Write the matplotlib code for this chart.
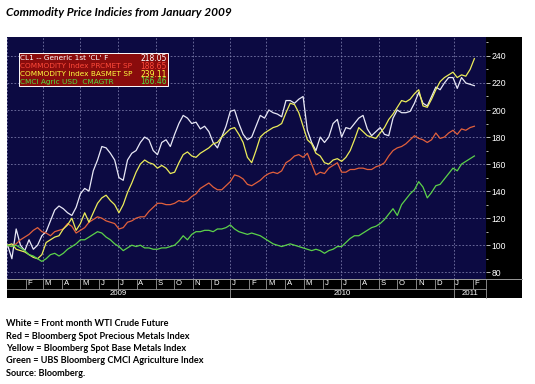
import numpy as np
import pandas as pd
import matplotlib
matplotlib.use("Agg")
import matplotlib.pyplot as plt
import matplotlib.dates as mdates
from matplotlib.patches import Rectangle
from matplotlib.lines import Line2D
from matplotlib.ticker import MultipleLocator, NullFormatter

# weekly closes, indexed to 100 at start of 2009
dates = pd.date_range("2009-01-02", "2011-02-04", freq="W-FRI")

crude = [100, 90, 112, 100, 96, 104, 97, 100, 107, 110,
         118, 126, 129, 127, 124, 122, 128, 138, 142, 140,
         155, 163, 173, 172, 168, 163, 150, 148, 163, 168,
         170, 176, 180, 178, 170, 167, 176, 178, 173, 182,
         190, 196, 194, 190, 191, 186, 188, 184, 176, 172,
         180, 188, 199, 200, 190, 182, 178, 180, 188, 196,
         194, 200, 198, 197, 195, 207, 207, 205, 208, 210,
         185, 176, 170, 180, 176, 180, 190, 193, 180, 187,
         186, 190, 194, 196, 186, 181, 184, 187, 182, 181,
         194, 200, 198, 198, 199, 205, 213, 205, 203, 210,
         217, 215, 220, 224, 224, 216, 224, 220, 219, 218]

precious = [100, 99, 101, 104, 106, 108, 111, 113, 110, 109,
            107, 110, 111, 112, 116, 114, 109, 111, 113, 117,
            119, 121, 120, 118, 117, 116, 112, 113, 117, 118,
            120, 121, 121, 125, 128, 131, 131, 130, 130, 131,
            133, 132, 133, 136, 138, 142, 144, 146, 143, 141,
            141, 144, 147, 152, 151, 149, 145, 144, 146, 148,
            151, 153, 154, 153, 155, 161, 163, 166, 167, 165,
            168, 160, 152, 154, 153, 157, 159, 161, 154, 154,
            156, 156, 157, 157, 156, 156, 158, 159, 161, 166,
            170, 172, 173, 175, 178, 181, 179, 178, 176, 178,
            183, 179, 180, 183, 185, 182, 186, 185, 187, 188]

base = [100, 101, 97, 96, 95, 93, 91, 90, 93, 102,
        104, 106, 107, 112, 115, 120, 111, 116, 124, 117,
        124, 131, 135, 137, 133, 130, 124, 130, 139, 146,
        154, 160, 163, 161, 160, 157, 159, 157, 153, 154,
        161, 167, 169, 166, 165, 168, 170, 172, 175, 176,
        180, 183, 186, 187, 182, 176, 165, 161, 170, 180,
        183, 185, 187, 188, 190, 198, 205, 204, 198, 188,
        178, 175, 168, 166, 161, 160, 163, 164, 162, 165,
        170, 178, 187, 184, 181, 180, 179, 183, 187, 193,
        197, 202, 207, 206, 208, 212, 215, 203, 202, 208,
        215, 221, 224, 226, 228, 224, 226, 225, 230, 238]

agri = [100, 99, 100, 98, 96, 93, 92, 90, 88, 90,
        93, 94, 92, 94, 97, 99, 101, 104, 104, 106,
        108, 110, 109, 106, 104, 101, 99, 96, 98, 100,
        99, 100, 98, 98, 97, 97, 98, 98, 99, 100,
        103, 107, 104, 108, 110, 110, 111, 111, 110, 112,
        112, 113, 115, 112, 110, 109, 108, 109, 108, 107,
        105, 103, 101, 100, 99, 100, 101, 100, 99, 98,
        97, 96, 97, 96, 94, 96, 97, 99, 99, 102,
        105, 107, 107, 109, 111, 113, 114, 116, 119, 123,
        127, 122, 130, 134, 138, 141, 147, 143, 135, 139,
        144, 145, 149, 153, 157, 155, 160, 162, 164, 166]

legend_names = ["CL1 -- Generic 1st 'CL' F",
                "COMMODITY Index PRCMET SP",
                "COMMODITY Index BASMET SP",
                "CMCI Agric USD  CMAGTR"]
legend_values = ["218.05", "188.65", "239.11", "166.46"]
notes = ["White = Front month WTI Crude Future",
         "Red = Bloomberg Spot Precious Metals Index",
         "Yellow = Bloomberg Spot Base Metals Index",
         "Green = UBS Bloomberg CMCI Agriculture Index",
         "Source: Bloomberg."]

series = [crude, precious, base, agri]
colors = ["#e8e8f6", "#e2603c", "#ecec5a", "#5cd24a"]
text_colors = ["#ffffff", "#ff4a3a", "#ffff40", "#50e040"]

W, H = 535, 384
def fx(x):
    return x / W
def fy(y):
    return 1 - y / H

fig = plt.figure(figsize=(W / 100, H / 100), dpi=100)
fig.patch.set_facecolor("white")

# black chart frame
fig.patches.append(Rectangle((fx(7), fy(298)), fx(522) - fx(7), fy(37) - fy(298),
                             transform=fig.transFigure, facecolor="black",
                             edgecolor="none", zorder=-5))

ax = fig.add_axes([fx(7), fy(279), fx(486) - fx(7), fy(37) - fy(279)])
ax.set_facecolor("#0c0a42")
for s, c in zip(series, colors):
    ax.plot(dates, s, color=c, lw=0.9, zorder=3)

xmin, xmax = pd.Timestamp("2009-01-01"), pd.Timestamp("2011-02-23")
ax.set_xlim(xmin, xmax)
ax.set_ylim(75, 254)
ax.xaxis.set_major_locator(mdates.MonthLocator(bymonth=[1, 3, 5, 7, 9, 11]))
ax.xaxis.set_major_formatter(NullFormatter())
ax.tick_params(axis="x", length=0)
ax.yaxis.tick_right()
ax.yaxis.set_major_locator(MultipleLocator(20))
ax.yaxis.set_minor_locator(MultipleLocator(10))
ax.tick_params(axis="y", which="major", colors="#d8d8d8", labelcolor="white",
               labelsize=6.2, length=3, width=0.6, pad=1)
ax.tick_params(axis="y", which="minor", colors="#d8d8d8", length=1.5, width=0.6)
for lab in ax.get_yticklabels():
    lab.set_family("Liberation Sans")
ax.grid(True, color="#8a8ab8", linestyle=(0, (2.5, 2.5)), linewidth=0.5)
for sp in ax.spines.values():
    sp.set_visible(False)

# legend box
fig.patches.append(Rectangle((fx(19), fy(86)), fx(168) - fx(19), fy(53) - fy(86),
                             transform=fig.transFigure, facecolor="#8a0c0c",
                             edgecolor="white", linewidth=0.7, zorder=5))
for k, (nm, val, tc) in enumerate(zip(legend_names, legend_values, text_colors)):
    yy = fy(58.5 + k * 7.8)
    fig.text(fx(20), yy, nm, color=tc, fontsize=5.3, family="DejaVu Sans",
             va="center", ha="left", zorder=6)
    fig.text(fx(167), yy, val, color=tc, fontsize=5.5, family="DejaVu Sans",
             va="center", ha="right", zorder=6)

# date strip: month row and year row
sx = fig.add_axes([fx(7), fy(298), fx(486) - fx(7), fy(279) - fy(298)])
sx.set_facecolor("black")
sx.set_xlim(xmin, xmax)
sx.set_ylim(0, 2)
sx.set_xticks([])
sx.set_yticks([])
for sp in sx.spines.values():
    sp.set_visible(False)
months = pd.date_range("2009-02-01", "2011-02-01", freq="MS")
for m in months:
    top = 0.0 if m.month == 1 else 1.0
    sx.vlines(m, top, 2, color="#9a9a9a", lw=0.6)
    sx.annotate(m.strftime("%b")[0], xy=(m, 1.5), xytext=(1.2, 0),
                textcoords="offset points", color="white", fontsize=5.6,
                family="Liberation Sans", va="center", ha="left")
years = [pd.Timestamp("2009-01-01"), pd.Timestamp("2010-01-01"), pd.Timestamp("2011-01-01")]
ends = years[1:] + [xmax]
for y0, y1 in zip(years, ends):
    mid = y0 + (y1 - y0) / 2
    sx.text(mid, 0.5, str(y0.year), color="white", fontsize=5.6,
            family="Liberation Sans", va="center", ha="center")

fig.lines.append(Line2D([fx(7), fx(522)], [fy(279), fy(279)], transform=fig.transFigure,
                        color="#9a9a9a", lw=0.7))
fig.lines.append(Line2D([fx(7), fx(486)], [fy(289), fy(289)], transform=fig.transFigure,
                        color="#9a9a9a", lw=0.6))
fig.lines.append(Line2D([fx(486), fx(486)], [fy(279), fy(298)], transform=fig.transFigure,
                        color="#9a9a9a", lw=0.6))

# title and notes
fig.text(fx(6), fy(12.5), "Commodity Price Indicies from January 2009", fontsize=8.6,
         family="Lato", weight="bold", style="italic", va="center", ha="left")
for k, line in enumerate(notes):
    fig.text(fx(6), fy(324 + k * 12.3), line, fontsize=6.6, family="Lato",
             weight="bold", va="center", ha="left")

fig.savefig("out.png", dpi=100)
